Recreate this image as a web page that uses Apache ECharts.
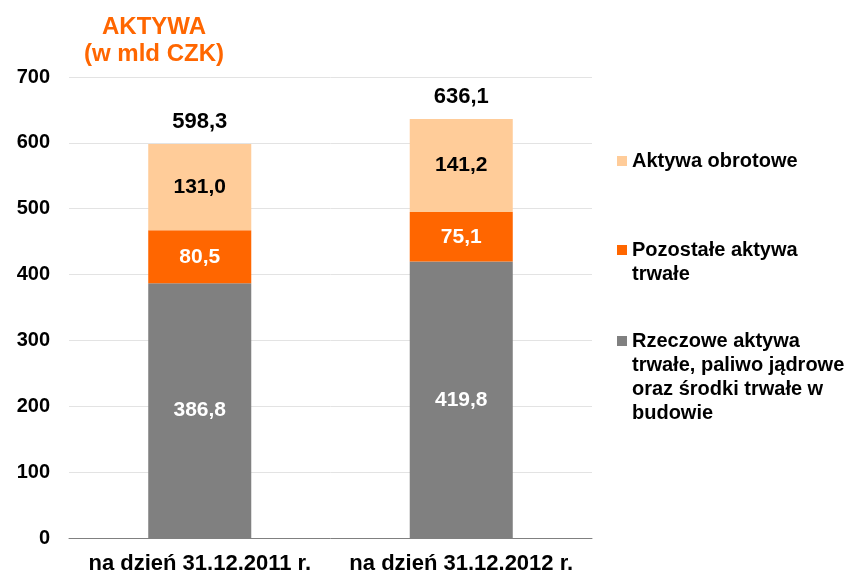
<!DOCTYPE html>
<html><head><meta charset="utf-8">
<script src="https://cdn.jsdelivr.net/npm/echarts@6/dist/echarts.min.js"></script>
<style>html,body{margin:0;padding:0;background:#fff}#c{width:857px;height:571px}</style>
</head><body><div id="c"></div>
<script>
var categories = ['na dzień 31.12.2011 r.', 'na dzień 31.12.2012 r.'];
var rzeczowe = [386.8, 419.8];
var pozostale = [80.5, 75.1];
var obrotowe = [131.0, 141.2];
var totals = [598.3, 636.1];
var names = ['Rzeczowe aktywa trwałe, paliwo jądrowe oraz środki trwałe w budowie', 'Pozostałe aktywa trwałe', 'Aktywa obrotowe'];
var legendLines = {
  'Aktywa obrotowe': ['Aktywa obrotowe'],
  'Pozostałe aktywa trwałe': ['Pozostałe aktywa', 'trwałe'],
  'Rzeczowe aktywa trwałe, paliwo jądrowe oraz środki trwałe w budowie': ['Rzeczowe aktywa', 'trwałe, paliwo jądrowe', 'oraz środki trwałe w', 'budowie']
};
var FONT = '"Liberation Sans", Arial, sans-serif';
function fmt(v){ return v.toFixed(1).replace('.', ','); }
function mkLegend(name, firstLineCenter){
  var lines = legendLines[name];
  var n = lines.length;
  var pad = [];
  for (var i = 0; i < n - 1; i++) pad.push(' ');
  var total = 2 * n - 1;
  return {
    data: [name], left: 617, top: firstLineCenter - total * 12,
    orient: 'vertical', padding: 0,
    itemWidth: 10, itemHeight: 10, itemGap: 0, icon: 'rect',
    formatter: function(){ return pad.concat(lines).join('\n'); },
    textStyle: { fontFamily: FONT, fontWeight: 'bold', fontSize: 20, color: '#000', lineHeight: 24 }
  };
}
var chart = echarts.init(document.getElementById('c'));
chart.setOption({
  animation: false,
  title: {
    text: 'AKTYWA\n(w mld CZK)', left: 154, top: 14, textAlign: 'center', padding: 0,
    textStyle: { fontFamily: FONT, fontWeight: 'bold', fontSize: 24, color: '#FF6600', lineHeight: 27 }
  },
  legend: [mkLegend('Aktywa obrotowe', 161), mkLegend('Pozostałe aktywa trwałe', 250), mkLegend(names[0], 341)],
  grid: { left: 69, right: 265, top: 77, bottom: 33, containLabel: false, outerBoundsMode: 'none' },
  xAxis: {
    type: 'category', data: categories,
    axisLine: { lineStyle: { color: '#808080', width: 1 } },
    axisTick: { show: false },
    axisLabel: { interval: 0, hideOverlap: false, fontFamily: FONT, fontWeight: 'bold', fontSize: 22, color: '#000', margin: 15 }
  },
  yAxis: {
    type: 'value', min: 0, max: 700, interval: 100,
    axisLine: { show: false }, axisTick: { show: false },
    splitLine: { lineStyle: { color: '#e3e3e3', width: 1 } },
    axisLabel: { fontFamily: FONT, fontWeight: 'bold', fontSize: 20, color: '#000', margin: 19 }
  },
  series: [
    { name: names[0], type: 'bar', stack: 's', data: rzeczowe, barWidth: '39.4%', itemStyle: { color: '#808080' },
      label: { show: true, position: 'inside', formatter: function(p){ return fmt(p.value); }, fontFamily: FONT, fontWeight: 'bold', fontSize: 21, color: '#fff' } },
    { name: names[1], type: 'bar', stack: 's', data: pozostale, itemStyle: { color: '#FF6600' },
      label: { show: true, position: 'inside', formatter: function(p){ return fmt(p.value); }, fontFamily: FONT, fontWeight: 'bold', fontSize: 21, color: '#fff' } },
    { name: names[2], type: 'bar', stack: 's', data: obrotowe, itemStyle: { color: '#FFCC99' },
      label: { show: true, position: 'inside', formatter: function(p){ return fmt(p.value); }, fontFamily: FONT, fontWeight: 'bold', fontSize: 21, color: '#000' } },
    { name: 'Suma', type: 'scatter', data: totals, symbol: 'circle', symbolSize: 2, itemStyle: { color: 'rgba(0,0,0,0)', opacity: 1 }, silent: true, z: 10,
      label: { show: true, position: 'top', distance: 10, opacity: 1, formatter: function(p){ return fmt(p.value); }, fontFamily: FONT, fontWeight: 'bold', fontSize: 22, color: '#000' } }
  ]
});
</script></body></html>
